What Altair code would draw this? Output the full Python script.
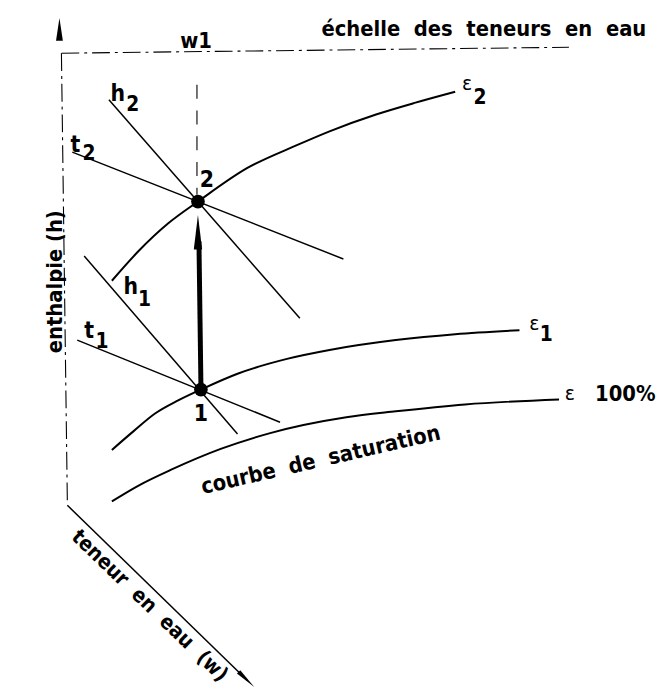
import altair as alt
import pandas as pd

# ---- diagram data (schematic coordinates, y grows downward) ----
EPS2_X = [113, 140, 170, 200, 250, 300, 333, 380, 420, 460]
EPS2_Y = [280, 250, 222, 200, 166, 143, 129, 112, 100, 89]
EPS1_X = [113, 135, 157, 180, 203, 240, 290, 333, 400, 460, 525]
EPS1_Y = [451, 432, 414, 401, 390, 374, 359, 350, 340, 334, 330]
SAT_X = [113, 140, 173, 223, 273, 350, 400, 470, 565]
SAT_Y = [503, 487, 471, 450, 434, 418, 412, 405, 400]

H2_X = [110, 303]; H2_Y = [97, 318]
T2_X = [73, 347];  T2_Y = [150, 258]
H1_X = [85, 240];  H1_Y = [255, 435]
T1_X = [78, 283];  T1_Y = [340, 423]

STATE_X = [200, 203]; STATE_Y = [200, 390]; STATE_N = ["2", "1"]

VAXIS_X = [62, 68];   VAXIS_Y = [50, 505]
HAXIS_X = [62, 575];  HAXIS_Y = [50, 44]
W1_X = [199, 199];    W1_Y = [82, 193]
DAXIS_X = [68, 250];  DAXIS_Y = [507, 684]
SHAFT_X = [203, 201]; SHAFT_Y = [385, 240]

SP = "\u00a0\u00a0"
TITLE = SP.join(["échelle", "des", "teneurs", "en", "eau"])
SATLAB = SP.join(["courbe", "de", "saturation"])
WLAB = SP.join(["teneur", "en", "eau", "(w)"])

xs = alt.Scale(domain=[8, 656], nice=False, zero=False)
ys = alt.Scale(domain=[8, 685], reverse=True, nice=False, zero=False)


def seg_df(pairs):
    rows = []
    for name, xs_, ys_ in pairs:
        for i, (a, b) in enumerate(zip(xs_, ys_)):
            rows.append({"line": name, "ord": i, "x": a, "y": b})
    return pd.DataFrame(rows)


def lines(df, **kw):
    return alt.Chart(df).mark_line(color="black", **kw).encode(
        x=alt.X("x:Q", scale=xs, axis=None),
        y=alt.Y("y:Q", scale=ys, axis=None),
        detail="line:N",
        order="ord:Q",
    )


def texts(df, **kw):
    return alt.Chart(df).mark_text(color="black", **kw).encode(
        x=alt.X("x:Q", scale=xs, axis=None),
        y=alt.Y("y:Q", scale=ys, axis=None),
        text="t:N",
    )


FONT = "Liberation Sans Narrow, DejaVu Sans Condensed, Arial Narrow, sans-serif"

curves = lines(seg_df([("e2", EPS2_X, EPS2_Y), ("e1", EPS1_X, EPS1_Y),
                       ("sat", SAT_X, SAT_Y)]),
               strokeWidth=2, interpolate="monotone")
straight = lines(seg_df([("h2", H2_X, H2_Y), ("t2", T2_X, T2_Y),
                         ("h1", H1_X, H1_Y), ("t1", T1_X, T1_Y)]),
                 strokeWidth=1.5)
dashed_axes = lines(seg_df([("v", VAXIS_X, VAXIS_Y), ("h", HAXIS_X, HAXIS_Y)]),
                    strokeWidth=1.1, strokeDash=[18, 5, 3, 5])
w1_line = lines(seg_df([("w1", W1_X, W1_Y)]), strokeWidth=1.1, strokeDash=[14, 12])
diag = lines(seg_df([("d", DAXIS_X, DAXIS_Y)]), strokeWidth=1.5)
shaft = lines(seg_df([("s", SHAFT_X, SHAFT_Y)]), strokeWidth=5)

states = alt.Chart(pd.DataFrame({"x": STATE_X, "y": STATE_Y, "n": STATE_N})).mark_point(
    shape="circle", filled=True, color="black", size=190, opacity=1
).encode(x=alt.X("x:Q", scale=xs, axis=None), y=alt.Y("y:Q", scale=ys, axis=None))


def head(x, y, path, size, angle=0):
    return alt.Chart(pd.DataFrame({"x": [x], "y": [y]})).mark_point(
        shape=path, filled=True, color="black", size=size, angle=angle, opacity=1
    ).encode(x=alt.X("x:Q", scale=xs, axis=None), y=alt.Y("y:Q", scale=ys, axis=None))


arrow_main = head(200, 231, "M0,-1L0.24,1L-0.24,1Z", 1225)
arrow_top = head(60, 26, "M0,-1L0.3,1L-0.3,1Z", 529)
arrow_diag = head(249, 683, "M0,-1L0.22,1L-0.22,1Z", 484, angle=134)

main_letters = texts(pd.DataFrame({
    "x": [119, 76, 132, 90, 209, 203],
    "y": [98, 150, 293, 338, 185, 422],
    "t": ["h", "t", "h", "t", "2", "1"]}),
    font=FONT, fontSize=23, fontWeight="bold", align="center", baseline="alphabetic")
subs = texts(pd.DataFrame({
    "x": [134, 90, 146, 103, 485, 552],
    "y": [108, 158, 306, 348, 101, 341],
    "t": ["2", "2", "1", "1", "2", "1"]}),
    font=FONT, fontSize=21, fontWeight="bold", align="center", baseline="alphabetic")
eps = texts(pd.DataFrame({
    "x": [472, 540, 576],
    "y": [87, 330, 401],
    "t": ["ɛ", "ɛ", "ɛ"]}),
    font="DejaVu Sans", fontSize=19, align="center", baseline="alphabetic")
pct = texts(pd.DataFrame({"x": [632], "y": [402], "t": ["100%"]}),
            font=FONT, fontSize=22, fontWeight="bold", align="center", baseline="alphabetic")
w1 = texts(pd.DataFrame({"x": [198], "y": [45], "t": ["w1"]}),
           font=FONT, fontSize=22, fontWeight="bold", align="center", baseline="alphabetic")
title = texts(pd.DataFrame({"x": [489], "y": [33], "t": [TITLE]}),
              font=FONT, fontSize=22, fontWeight="bold", align="center", baseline="alphabetic")
ylab = texts(pd.DataFrame({"x": [56], "y": [281], "t": ["enthalpie (h)"]}),
             font=FONT, fontSize=22, fontWeight="bold", align="center", baseline="middle", angle=270)
satlab = texts(pd.DataFrame({"x": [324], "y": [461], "t": [SATLAB]}),
               font=FONT, fontSize=22, fontWeight="bold", align="center", baseline="middle", angle=347)
wlab = texts(pd.DataFrame({"x": [151], "y": [609], "t": [WLAB]}),
             font=FONT, fontSize=21, fontWeight="bold", align="center", baseline="middle", angle=44)

chart = alt.layer(
    dashed_axes, w1_line, diag, curves, straight, shaft, states,
    arrow_main, arrow_top, arrow_diag,
    main_letters, subs, eps, pct, w1, title, ylab, satlab, wlab,
).properties(width=648, height=677, padding=0).configure_view(stroke=None)

chart.save("out.html", embed_options={"renderer": "svg", "actions": False})
